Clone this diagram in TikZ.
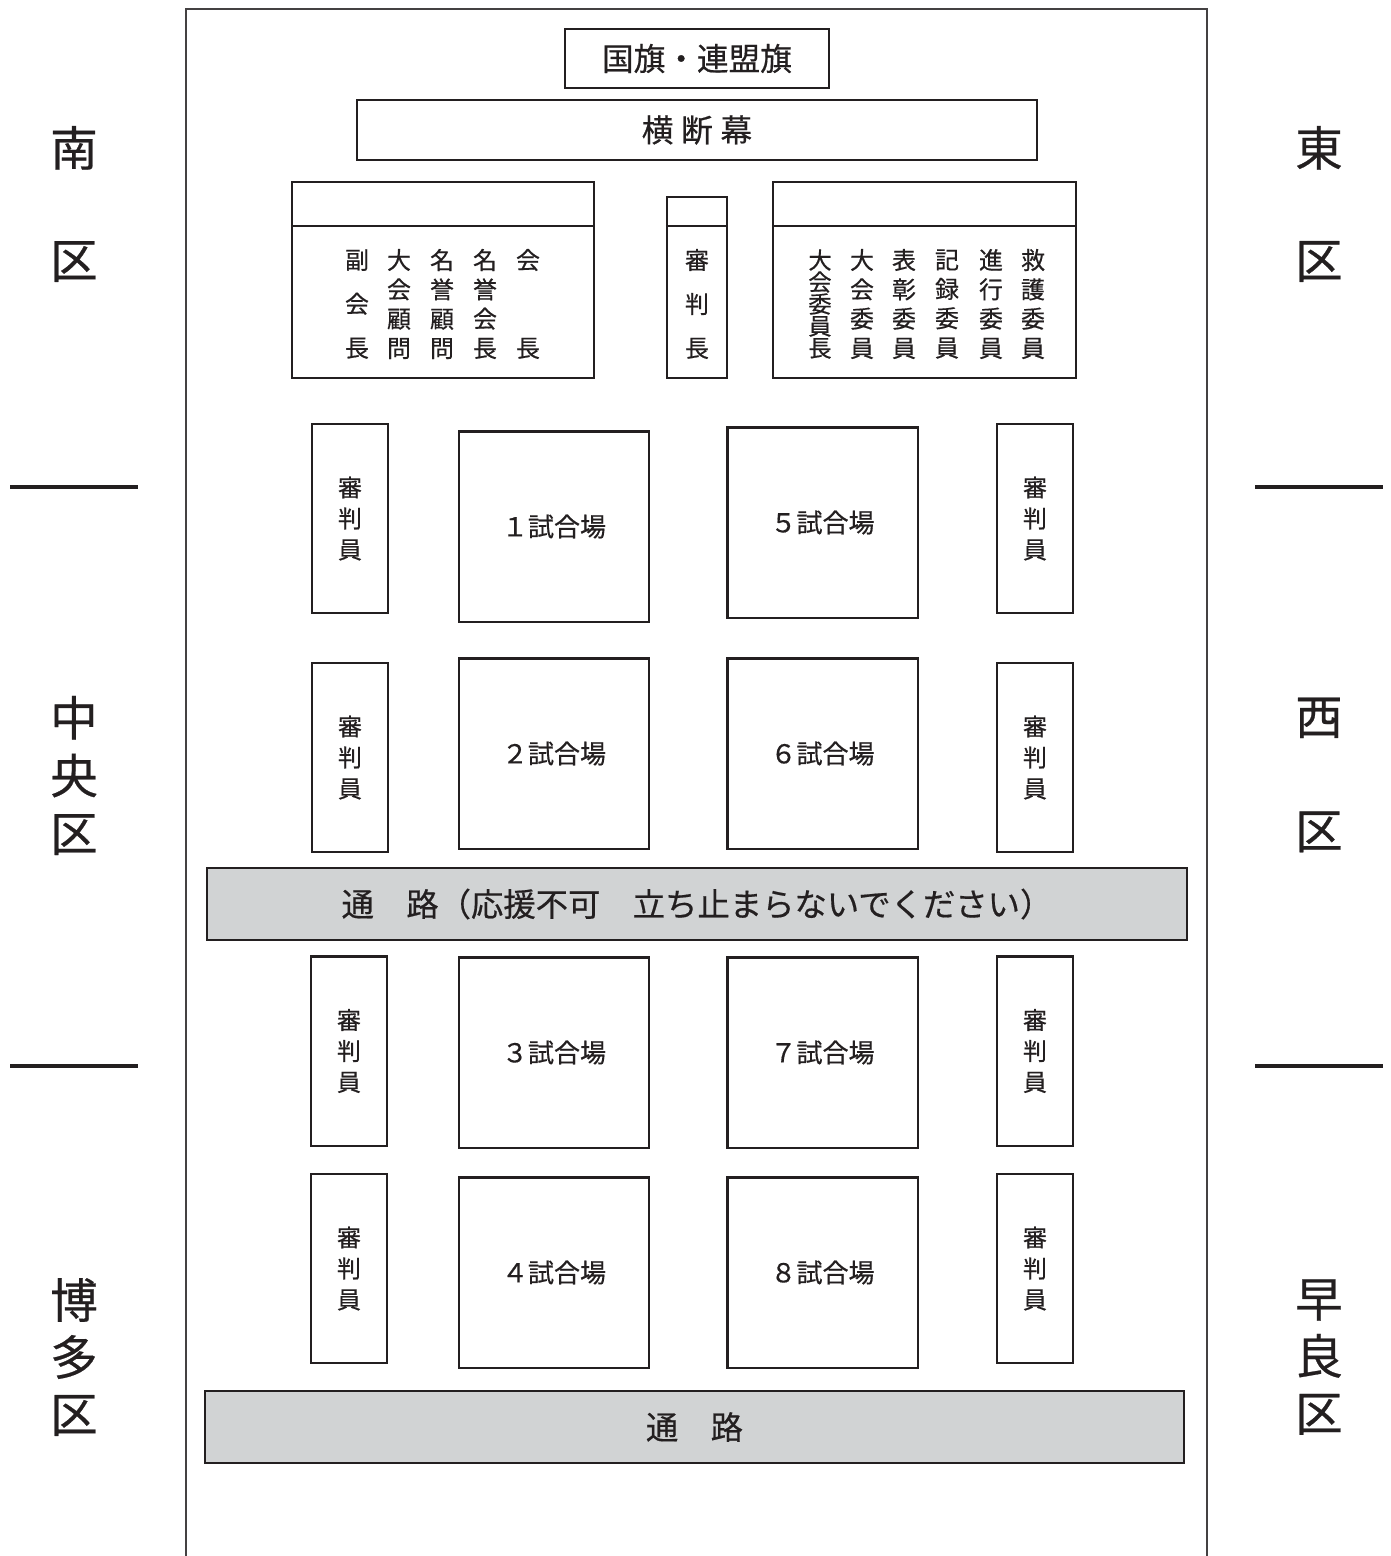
\documentclass[tikz,border=0pt]{standalone}
\usepackage{fontspec}
\setmainfont{Noto Sans CJK JP}[FakeBold=0.5, AutoFakeBold=0.5]
\usepackage{tikz}
\usetikzlibrary{positioning}

\definecolor{ink}{HTML}{231F20}
\definecolor{aislegray}{HTML}{D1D3D4}

\tikzset{
	box/.style = {draw = ink, line width = 0.6pt, inner sep = 0pt, text = ink},
	court/.style = {box, minimum width = 1.9cm, minimum height = 1.9cm, font = \fontsize{7.4}{9}\selectfont\bfseries},
	judgebox/.style = {box, minimum width = 0.76cm, minimum height = 1.89cm, align = center, font = \fontsize{6.8}{8.8}\selectfont\bfseries},
	aisle/.style = {box, fill = aislegray, minimum height = 0.72cm, font = \fontsize{9.2}{11}\selectfont\bfseries},
	staff/.style = {text = ink, inner sep = 0pt, align = center},
	ward/.style = {text = ink, inner sep = 0pt, align = center},
	divider/.style = {draw = ink, line width = 1.1pt}
}

\begin{document}
\begin{tikzpicture}[x = 0.01cm, y = -0.01cm]
	
	\useasboundingbox (0,0) rectangle (1391,1556);
	
	% hall outline (open at the bottom)
	\draw[ink!85, line width = 0.5pt] (186,1556) -- (186,9) -- (1207,9) -- (1207,1556);
	
	% flags and banner
	\node[box, minimum width = 2.64cm, minimum height = 0.59cm, font = \fontsize{9}{11}\selectfont\bfseries] (flags) at (697,58.5) {国旗・連盟旗};
	\node[box, minimum width = 6.8cm, minimum height = 0.6cm, font = \fontsize{9}{11}\selectfont\bfseries] (banner) at (697,130) {横\hspace{2.2pt}断\hspace{2.2pt}幕};
	
	% officials tables
	\node[box, minimum width = 3.02cm, minimum height = 1.96cm] (guests) at (443,280) {};
	\draw[ink, line width = 0.6pt] ([yshift = -0.45cm]guests.north west) -- ([yshift = -0.45cm]guests.north east);
	\node[box, minimum width = 0.6cm, minimum height = 1.81cm] (chief) at (697,287.5) {};
	\draw[ink, line width = 0.6pt] ([yshift = -0.30cm]chief.north west) -- ([yshift = -0.30cm]chief.north east);
	\node[box, minimum width = 3.03cm, minimum height = 1.96cm] (committee) at (924.5,280) {};
	\draw[ink, line width = 0.6pt] ([yshift = -0.45cm]committee.north west) -- ([yshift = -0.45cm]committee.north east);
	
	% names in the tables
	\node[staff, font = \fontsize{6.8}{12.5}\selectfont\bfseries] (vicepres) at (357,304) {副\\会\\長};
	\node[staff, font = \fontsize{6.8}{8.34}\selectfont\bfseries] (advisor) at (399,304) {大\\会\\顧\\問};
	\node[staff, font = \fontsize{6.8}{8.34}\selectfont\bfseries] (honadvisor) at (442,304) {名\\誉\\顧\\問};
	\node[staff, font = \fontsize{6.8}{8.34}\selectfont\bfseries] (honpres) at (485,304) {名\\誉\\会\\長};
	\node[staff, font = \fontsize{6.8}{25}\selectfont\bfseries] (pres) at (528,304) {会\\長};
	\node[staff, font = \fontsize{6.8}{12.5}\selectfont\bfseries] (chieftext) at (697,304) {審\\判\\長};
	\node[staff, font = \fontsize{6.6}{6.25}\selectfont\bfseries] (chair) at (820,304) {大\\会\\委\\員\\長};
	\node[staff, font = \fontsize{6.8}{8.34}\selectfont\bfseries] (member) at (862,304) {大\\会\\委\\員};
	\node[staff, font = \fontsize{6.8}{8.34}\selectfont\bfseries] (awards) at (904,304) {表\\彰\\委\\員};
	\node[staff, font = \fontsize{6.8}{8.34}\selectfont\bfseries] (records) at (947,304) {記\\録\\委\\員};
	\node[staff, font = \fontsize{6.8}{8.34}\selectfont\bfseries] (progress) at (991,304) {進\\行\\委\\員};
	\node[staff, font = \fontsize{6.8}{8.34}\selectfont\bfseries] (firstaid) at (1033,304) {救\\護\\委\\員};
	
	% courts
	\node[court] (c1) at (554,526.5) {１試合場};
	\node[court] (c5) at (822.5,522.5) {５試合場};
	\node[court] (c2) at (554,753.5) {２試合場};
	\node[court] (c6) at (822.5,753.5) {６試合場};
	\node[court] (c3) at (554,1052.5) {３試合場};
	\node[court] (c7) at (822.5,1052.5) {７試合場};
	\node[court] (c4) at (554,1272.5) {４試合場};
	\node[court] (c8) at (822.5,1272.5) {８試合場};
	
	% judges
	\node[judgebox] (j1) at (350,518.5) {審\\判\\員};
	\node[judgebox] (j2) at (350,757.5) {審\\判\\員};
	\node[judgebox] (j3) at (349,1051) {審\\判\\員};
	\node[judgebox] (j4) at (349,1268.5) {審\\判\\員};
	\node[judgebox] (j5) at (1035,518.5) {審\\判\\員};
	\node[judgebox] (j6) at (1035,757.5) {審\\判\\員};
	\node[judgebox] (j7) at (1035,1051) {審\\判\\員};
	\node[judgebox] (j8) at (1035,1268.5) {審\\判\\員};
	
	% aisles
	\node[aisle, minimum width = 9.8cm] (aisleA) at (697,904) {通　路（応援不可　立ち止まらないでください）};
	\node[aisle, minimum width = 9.79cm] (aisleB) at (694.5,1427) {通　路};
	
	% wards, left side
	\node[ward, font = \fontsize{13.5}{31.9}\selectfont\bfseries] (minami) at (74,204) {南\\区};
	\node[ward, font = \fontsize{13.5}{16.4}\selectfont\bfseries] (chuo) at (74,775.5) {中\\央\\区};
	\node[ward, font = \fontsize{13.5}{16.2}\selectfont\bfseries] (hakata) at (74,1357) {博\\多\\区};
	\draw[divider] (10,487) -- (138,487);
	\draw[divider] (10,1066) -- (138,1066);
	
	% wards, right side
	\node[ward, font = \fontsize{13.5}{31.9}\selectfont\bfseries] (higashi) at (1319,204) {東\\区};
	\node[ward, font = \fontsize{13.5}{32.4}\selectfont\bfseries] (nishi) at (1319,775) {西\\区};
	\node[ward, font = \fontsize{13.5}{16.2}\selectfont\bfseries] (sawara) at (1319,1357) {早\\良\\区};
	\draw[divider] (1255,487) -- (1383,487);
	\draw[divider] (1255,1066) -- (1383,1066);
	
\end{tikzpicture}
\end{document}
